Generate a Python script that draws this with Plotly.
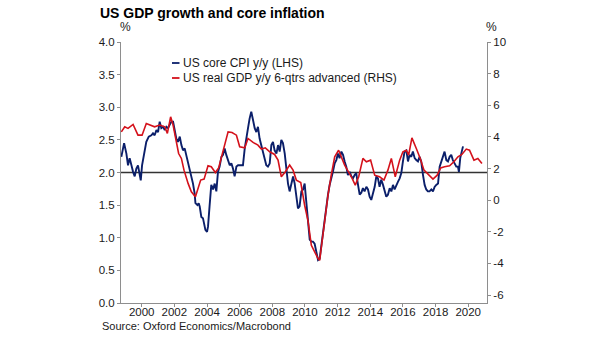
import plotly.graph_objects as go

# US core CPI, % y/y (monthly, left axis)
cpi_t = [1998.75, 1998.92, 1999.06, 1999.16, 1999.26, 1999.37, 1999.47, 1999.57, 1999.67, 1999.77,
         1999.88, 1999.94, 2000.02, 2000.14, 2000.22, 2000.28, 2000.43, 2000.59, 2000.69, 2000.79,
         2000.90, 2001.00, 2001.10, 2001.20, 2001.31, 2001.41, 2001.51, 2001.61, 2001.71, 2001.82,
         2001.92, 2002.02, 2002.12, 2002.22, 2002.33, 2002.43, 2002.53, 2002.63, 2002.73, 2002.84,
         2002.94, 2003.04, 2003.14, 2003.24, 2003.29, 2003.41, 2003.49, 2003.55, 2003.65, 2003.75,
         2003.82, 2003.90, 2004.00, 2004.06, 2004.16, 2004.26, 2004.37, 2004.47, 2004.57, 2004.67,
         2004.77, 2004.88, 2004.98, 2005.08, 2005.18, 2005.29, 2005.39, 2005.49, 2005.59, 2005.69,
         2005.80, 2005.90, 2006.00, 2006.10, 2006.20, 2006.31, 2006.41, 2006.51, 2006.61, 2006.71,
         2006.82, 2006.92, 2007.02, 2007.12, 2007.22, 2007.33, 2007.43, 2007.53, 2007.63, 2007.73,
         2007.84, 2007.94, 2008.04, 2008.14, 2008.25, 2008.35, 2008.45, 2008.55, 2008.65, 2008.76,
         2008.86, 2008.96, 2009.06, 2009.16, 2009.27, 2009.37, 2009.47, 2009.57, 2009.67, 2009.78,
         2009.88, 2009.98, 2010.08, 2010.18, 2010.29, 2010.39, 2010.49, 2010.59, 2010.69, 2010.80,
         2010.90, 2011.00, 2011.10, 2011.20, 2011.31, 2011.41, 2011.51, 2011.61, 2011.71, 2011.82,
         2011.92, 2012.02, 2012.12, 2012.23, 2012.33, 2012.43, 2012.53, 2012.63, 2012.74, 2012.84,
         2012.94, 2013.04, 2013.14, 2013.25, 2013.35, 2013.45, 2013.55, 2013.65, 2013.76, 2013.86,
         2013.96, 2014.06, 2014.16, 2014.27, 2014.37, 2014.47, 2014.57, 2014.67, 2014.78, 2014.88,
         2014.98, 2015.08, 2015.19, 2015.29, 2015.39, 2015.49, 2015.59, 2015.70, 2015.80, 2015.90,
         2016.00, 2016.10, 2016.21, 2016.31, 2016.41, 2016.51, 2016.61, 2016.72, 2016.82, 2016.92,
         2017.02, 2017.12, 2017.23, 2017.33, 2017.43, 2017.53, 2017.63, 2017.74, 2017.84, 2017.94,
         2018.04, 2018.15, 2018.25, 2018.35, 2018.45, 2018.55, 2018.66, 2018.76, 2018.86, 2018.96,
         2019.06, 2019.17, 2019.27, 2019.37, 2019.43, 2019.51, 2019.61, 2019.68]
cpi_v = [2.24, 2.45, 2.29, 2.11, 2.22, 2.09, 2.01, 1.94, 2.06, 2.11,
         1.94, 1.88, 2.11, 2.27, 2.37, 2.47, 2.55, 2.57, 2.60, 2.57,
         2.65, 2.62, 2.78, 2.68, 2.70, 2.65, 2.70, 2.68, 2.73, 2.78,
         2.78, 2.62, 2.52, 2.47, 2.55, 2.42, 2.34, 2.37, 2.27, 2.17,
         2.04, 1.94, 1.83, 1.68, 1.53, 1.50, 1.53, 1.48, 1.32, 1.30,
         1.22, 1.12, 1.09, 1.17, 1.50, 1.81, 1.74, 1.83, 1.71, 2.01,
         2.09, 2.24, 2.27, 2.37, 2.27, 2.19, 2.11, 2.14, 2.06, 1.94,
         2.09, 2.11, 2.11, 2.10, 2.11, 2.37, 2.57, 2.68, 2.83, 2.93,
         2.80, 2.68, 2.62, 2.70, 2.52, 2.42, 2.32, 2.22, 2.11, 2.09,
         2.14, 2.42, 2.47, 2.34, 2.29, 2.42, 2.32, 2.50, 2.45, 2.29,
         2.04, 1.83, 1.71, 1.83, 1.94, 1.83, 1.60, 1.45, 1.48, 1.71,
         1.74, 1.83, 1.55, 1.30, 0.97, 0.94, 0.94, 0.91, 0.79, 0.66,
         0.68, 0.89, 1.09, 1.25, 1.45, 1.66, 1.81, 1.94, 2.01, 2.14,
         2.19, 2.29, 2.22, 2.32, 2.27, 2.17, 2.09, 1.96, 2.01, 1.94,
         1.91, 1.96, 1.99, 1.81, 1.66, 1.69, 1.76, 1.71, 1.78, 1.74,
         1.63, 1.58, 1.66, 1.78, 1.94, 1.91, 1.78, 1.89, 1.81, 1.71,
         1.63, 1.66, 1.76, 1.71, 1.81, 1.74, 1.81, 1.86, 1.91, 1.99,
         2.17, 2.32, 2.34, 2.17, 2.27, 2.24, 2.32, 2.22, 2.19, 2.17,
         2.24, 2.17, 1.96, 1.81, 1.74, 1.71, 1.71, 1.74, 1.71, 1.78,
         1.81, 1.83, 2.09, 2.17, 2.24, 2.32, 2.19, 2.17, 2.24, 2.27,
         2.19, 2.14, 2.09, 2.09, 2.01, 2.22, 2.34, 2.40]

# US real GDP, % y/y, shifted 6 quarters ahead (right axis)
gdp_t = [1998.75, 1998.96, 1999.16, 1999.47, 1999.77, 2000.02, 2000.28, 2000.59, 2000.79, 2001.10,
         2001.41, 2001.57, 2001.77, 2001.92, 2002.12, 2002.26, 2002.43, 2002.59, 2002.84, 2003.04,
         2003.29, 2003.45, 2003.61, 2003.82, 2004.06, 2004.26, 2004.51, 2004.71, 2004.92, 2005.12,
         2005.29, 2005.53, 2005.80, 2006.00, 2006.31, 2006.51, 2006.82, 2007.12, 2007.33, 2007.57,
         2007.84, 2008.14, 2008.35, 2008.55, 2008.80, 2009.06, 2009.27, 2009.47, 2009.74, 2009.98,
         2010.18, 2010.39, 2010.59, 2010.80, 2010.90, 2011.04, 2011.20, 2011.41, 2011.61, 2011.82,
         2012.06, 2012.23, 2012.43, 2012.63, 2012.84, 2013.08, 2013.29, 2013.55, 2013.76, 2014.02,
         2014.27, 2014.57, 2014.84, 2015.08, 2015.29, 2015.53, 2015.80, 2016.00, 2016.21, 2016.35,
         2016.55, 2016.82, 2017.06, 2017.29, 2017.53, 2017.84, 2018.10, 2018.31, 2018.55, 2018.86,
         2019.12, 2019.37, 2019.61, 2019.88, 2020.08, 2020.35, 2020.59, 2020.84]
gdp_v = [4.32, 4.64, 4.54, 4.79, 4.11, 4.11, 4.85, 4.75, 4.64, 4.75,
         4.64, 4.22, 5.27, 4.75, 3.69, 2.95, 2.64, 1.90, 1.06, 0.53,
         0.21, 0.74, 1.27, 1.33, 2.17, 2.11, 1.75, 2.04, 2.85, 3.48,
         4.32, 4.28, 4.11, 3.38, 3.31, 3.90, 3.65, 3.48, 3.23, 3.31,
         3.06, 2.89, 2.53, 1.48, 1.80, 2.22, 1.90, 1.27, 1.12, -0.32,
         -1.27, -2.85, -3.27, -3.69, -3.80, -2.64, -1.37, 0.32, 1.58, 2.74,
         3.16, 2.74, 2.22, 1.85, 1.48, 0.95, 1.48, 2.64, 2.43, 2.53,
         1.58, 1.48, 1.27, 1.90, 2.64, 1.48, 2.53, 3.06, 3.16, 2.85,
         3.94, 3.27, 2.64, 1.90, 1.63, 1.33, 1.58, 2.04, 2.11, 2.17,
         2.43, 2.74, 2.89, 3.23, 3.16, 2.53, 2.64, 2.32]

year_ticks = list(range(2000, 2021, 2))
left_ticks = [0.0, 0.5, 1.0, 1.5, 2.0, 2.5, 3.0, 3.5, 4.0]
right_ticks = [-6, -4, -2, 0, 2, 4, 6, 8, 10]

NAVY = "#0B1F6A"
RED = "#D4111B"
AXIS = "#8E8E8E"
TEXT = "#1A1A1A"
FONT = "Liberation Sans, Arial, sans-serif"
TICK_SIZE = 11.5

W, H = 605, 341
ML, MR, MT, MB = 121, 118, 42, 38
PW, PH = W - ML - MR, H - MT - MB


def px(x):
    return (x - ML) / PW


def py(y):
    return (H - MB - y) / PH


fig = go.Figure()
fig.add_trace(go.Scatter(x=gdp_t, y=gdp_v, yaxis="y2", mode="lines",
                         line=dict(color=RED, width=1.6), showlegend=False,
                         name="US real GDP y/y 6-qtrs advanced (RHS)"))
fig.add_trace(go.Scatter(x=cpi_t, y=cpi_v, mode="lines",
                         line=dict(color=NAVY, width=1.9), showlegend=False,
                         name="US core CPI y/y (LHS)"))

# reference line at 2% on the left scale
fig.add_shape(type="line", xref="paper", x0=0, x1=1, yref="y", y0=2.0, y1=2.0,
              line=dict(color="#333333", width=1.4), layer="below")

# legend entries
legend_items = [("US core CPI y/y (LHS)", NAVY, 63), ("US real GDP y/y 6-qtrs advanced (RHS)", RED, 78)]
for label, color, yy in legend_items:
    fig.add_shape(type="line", xref="paper", yref="paper", x0=px(172), x1=px(179.5),
                  y0=py(yy), y1=py(yy), line=dict(color=color, width=1.8))
    fig.add_annotation(text=label, xref="paper", yref="paper", x=px(181), y=py(yy),
                       xanchor="left", yanchor="middle", showarrow=False,
                       font=dict(family=FONT, size=12, color=TEXT))

fig.add_annotation(text="<b>US GDP growth and core inflation</b>", xref="paper", yref="paper",
                   x=px(98), y=py(13), xanchor="left", yanchor="middle", showarrow=False,
                   font=dict(family=FONT, size=14, color="#000000"))
fig.add_annotation(text="%", xref="paper", yref="paper", x=px(125), y=py(27),
                   xanchor="center", yanchor="middle", showarrow=False,
                   font=dict(family=FONT, size=12, color=TEXT))
fig.add_annotation(text="%", xref="paper", yref="paper", x=px(492), y=py(27),
                   xanchor="center", yanchor="middle", showarrow=False,
                   font=dict(family=FONT, size=12, color=TEXT))
fig.add_annotation(text="Source: Oxford Economics/Macrobond", xref="paper", yref="paper",
                   x=px(100), y=py(326), xanchor="left", yanchor="middle", showarrow=False,
                   font=dict(family=FONT, size=11, color=TEXT))

fig.update_layout(
    width=W, height=H,
    margin=dict(l=ML, r=MR, t=MT, b=MB, pad=0, autoexpand=False),
    paper_bgcolor="white", plot_bgcolor="white",
    font=dict(family=FONT, size=12, color=TEXT),
    showlegend=False,
    xaxis=dict(range=[1998.73, 2021.15], tickvals=year_ticks,
               ticktext=[str(y) for y in year_ticks], ticklabelstandoff=-5,
               showline=True, linecolor=AXIS, linewidth=1, ticks="outside",
               ticklen=3, tickcolor=AXIS, showgrid=False, zeroline=False,
               tickfont=dict(family=FONT, size=TICK_SIZE, color=TEXT)),
    yaxis=dict(range=[0, 4], tickvals=left_ticks,
               ticktext=[f"{v:.1f}" for v in left_ticks],
               showline=True, linecolor=AXIS, linewidth=1, ticks="outside",
               ticklen=3, tickcolor=AXIS, showgrid=False, zeroline=False,
               tickfont=dict(family=FONT, size=TICK_SIZE, color=TEXT)),
    yaxis2=dict(range=[-6.5, 10], tickvals=right_ticks,
                ticktext=[str(v) for v in right_ticks], overlaying="y", side="right",
                showline=True, linecolor=AXIS, linewidth=1, ticks="outside",
                ticklen=3, tickcolor=AXIS, showgrid=False, zeroline=False,
                tickfont=dict(family=FONT, size=TICK_SIZE, color=TEXT)),
)

fig.write_html("out.html")
